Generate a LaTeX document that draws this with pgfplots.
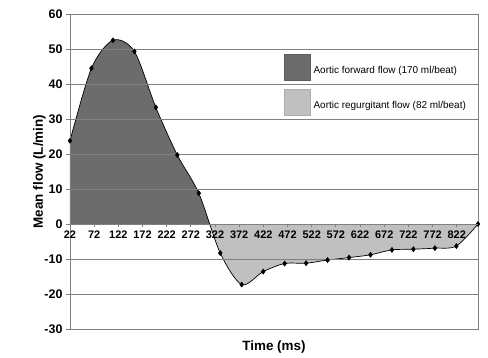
\documentclass[border=0pt]{standalone}
\usepackage{fontspec}
\setmainfont{Liberation Sans}
\usepackage{pgfplots}
\usepackage{pgfplotstable}
\pgfplotsset{compat=1.18}
\definecolor{fwd}{RGB}{108,108,108}
\definecolor{reg}{RGB}{192,192,192}
\definecolor{gridc}{RGB}{128,128,128}
\pgfplotstableread{
x y
22 23.8
66.4 44.5
110.8 52.5
155.2 49.3
199.6 33.3
244 19.7
288.4 8.8
332.8 -8.3
377.2 -17.3
421.6 -13.6
466 -11.3
510.4 -11.2
554.8 -10.3
599.2 -9.6
643.6 -8.8
688 -7.4
732.4 -7.2
776.8 -6.9
821.2 -6.3
866 0
}\flowdata
\begin{document}
\begin{tikzpicture}
\useasboundingbox (-70bp,-29bp) rectangle (418bp,329bp);
\pgfplotsset{
  common/.style={scale only axis, width=408bp, height=315bp,
    xmin=22, xmax=866, ymin=-30, ymax=60, at={(0,0)}, anchor=south west,
    /pgf/number format/assume math mode=true},
}
\begin{axis}[common, axis on top,
  axis line style={gridc, line width=0.8bp},
  xtick=\empty, ytick={-30,-20,...,60},
  ymajorgrids, grid style={gridc, line width=0.9bp},
  y tick style={gridc, line width=0.8bp},
  tick align=outside, major tick length=4bp, ytick pos=left,
  yticklabel style={font=\fontsize{12.5}{14}\selectfont\bfseries},
  xlabel={Time (ms)}, ylabel={Mean flow (L/min)},
  label style={font=\fontsize{13.5}{16}\selectfont\bfseries},
  xlabel style={at={(axis description cs:0.5,-0.0698)}, anchor=base},
  ylabel style={at={(axis description cs:-0.0662,0.5)}, anchor=base},
  legend image code/.code={\draw[#1] (0bp,-9.5bp) rectangle (26bp,16.5bp);},
  legend cell align=left,
  legend style={at={(axis description cs:0.5245,0.873)}, anchor=north west,
    draw=none, fill=none, inner sep=0pt, font=\fontsize{10}{12}\selectfont,
    row sep=8.5bp, column sep=3bp, nodes={inner sep=0pt}},
]
\addlegendimage{fill=fwd, draw=fwd!85!black}
\addlegendentry{Aortic forward flow (170 ml/beat)}
\addlegendimage{fill=reg, draw=reg!90!black}
\addlegendentry{Aortic regurgitant flow (82 ml/beat)}
\begin{scope}
\clip (axis cs:22,0) rectangle (axis cs:866,60);
\addplot[fill=fwd, draw=none, smooth, forget plot] table {\flowdata} \closedcycle;
\end{scope}
\begin{scope}
\clip (axis cs:22,-30) rectangle (axis cs:866,0);
\addplot[fill=reg, draw=none, smooth, forget plot] table {\flowdata} \closedcycle;
\end{scope}
\addplot[smooth, black, line width=0.7bp, mark=diamond*, mark size=2.4bp, forget plot] table {\flowdata};
\end{axis}
\begin{axis}[common, axis x line=middle, axis y line=none,
  x axis line style={-, gridc, line width=0.8bp},
  xtick={22,72,...,822}, ytick=\empty,
  x tick style={gridc, line width=0.8bp},
  tick align=outside, major tick length=3bp,
  xticklabel style={font=\fontsize{11}{13}\selectfont\bfseries},
]
\addplot[draw=none, forget plot] coordinates {(22,0) (866,0)};
\end{axis}
\end{tikzpicture}
\end{document}
